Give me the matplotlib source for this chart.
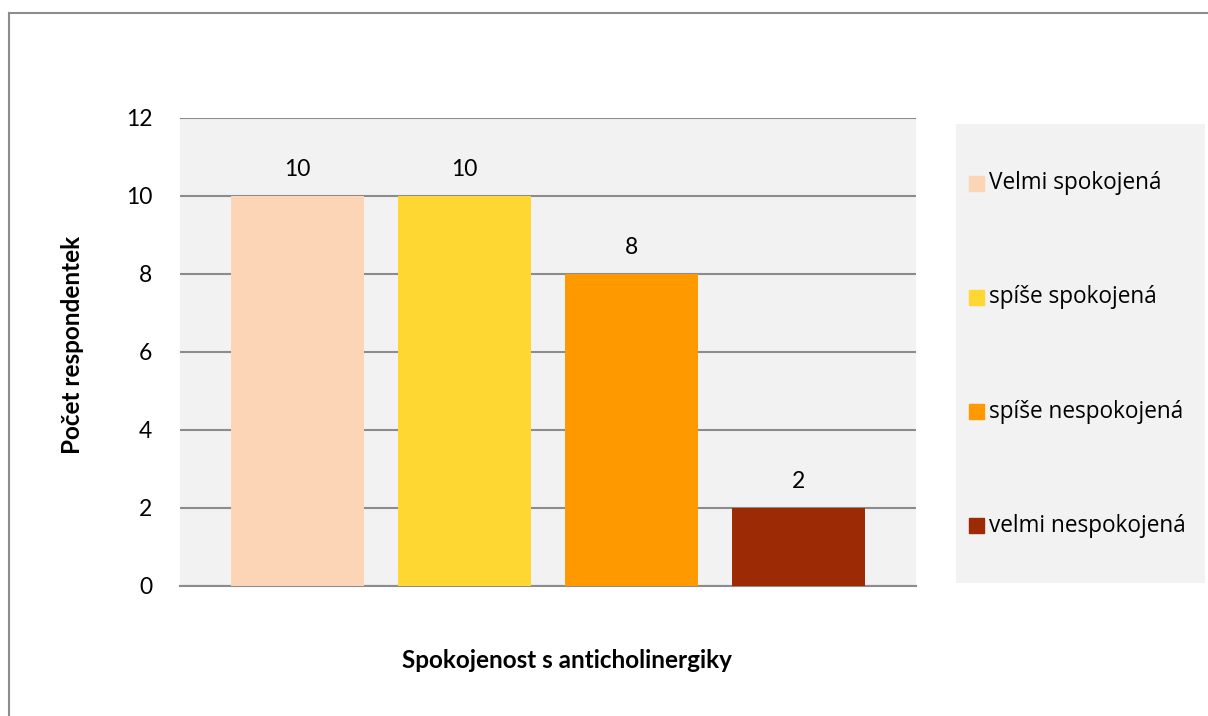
import numpy as np
import matplotlib.pyplot as plt
from matplotlib.lines import Line2D

# Data
categories = ['Velmi spokojená', 'spíše spokojená', 'spíše nespokojená', 'velmi nespokojená']
counts = [10, 10, 8, 2]
colors = ['#FBD5B5', '#FFD732', '#FF9900', '#9C2A04']
y_ticks = [0, 2, 4, 6, 8, 10, 12]

W, H = 1208, 716
fig = plt.figure(figsize=(W / 100, H / 100), dpi=100)

# outer frame (only left and top edges fall inside the image)
fig.add_artist(Line2D([8.5 / W, 8.5 / W], [0, 1 - 12.5 / H], transform=fig.transFigure,
                      color='#8C8C8C', lw=1.5))
fig.add_artist(Line2D([8.5 / W, 1], [1 - 12.5 / H, 1 - 12.5 / H], transform=fig.transFigure,
                      color='#8C8C8C', lw=1.5))

# plot area in pixels: x 180..916, y 118..586
ax = fig.add_axes([180 / W, 1 - 586 / H, 736 / W, 468 / H])
ax.set_facecolor('#F2F2F2')

x = np.arange(len(counts))
bars = ax.bar(x, counts, width=0.795, color=colors, zorder=3)
ax.set_xlim(-0.7, 3.7)
ax.set_ylim(0, 12)
ax.set_yticks(y_ticks)
ax.set_yticklabels([str(t) for t in y_ticks], fontsize=16.5, family='Lato')
ax.set_xticks([])
ax.tick_params(axis='y', length=0, pad=20)
ax.yaxis.grid(True, color='#8C8C8C', lw=1.5, zorder=1)
for s in ['left', 'right', 'top']:
    ax.spines[s].set_visible(False)
ax.spines['bottom'].set_color('#8C8C8C')
ax.spines['bottom'].set_linewidth(1.5)

for xi, v in zip(x, counts):
    ax.text(xi, v + 0.42, str(v), ha='center', va='bottom', fontsize=16.5, family='Lato')

fig.text(72 / W, 1 - 345 / H, 'Počet respondentek', rotation=90, ha='center', va='center',
         fontsize=17.5, fontweight='bold', family='Lato')
fig.text(567 / W, 1 - 660 / H, 'Spokojenost s anticholinergiky', ha='center', va='center',
         fontsize=17.5, fontweight='bold', family='Lato')

# legend panel
lax = fig.add_axes([956 / W, 1 - 583 / H, 249 / W, 459 / H])
lax.set_facecolor('#F2F2F2')
lax.set_xlim(0, 249)
lax.set_ylim(459, 0)
lax.set_xticks([])
lax.set_yticks([])
for s in lax.spines.values():
    s.set_visible(False)
for i, (lab, c) in enumerate(zip(categories, colors)):
    yc = 59 + i * 114.3
    lax.add_patch(plt.Rectangle((13, yc - 7.5), 15, 15, color=c))
    lax.text(33, yc, lab, va='center', ha='left', fontsize=16.3, family='Open Sans')

fig.savefig('out.png', dpi=100)
